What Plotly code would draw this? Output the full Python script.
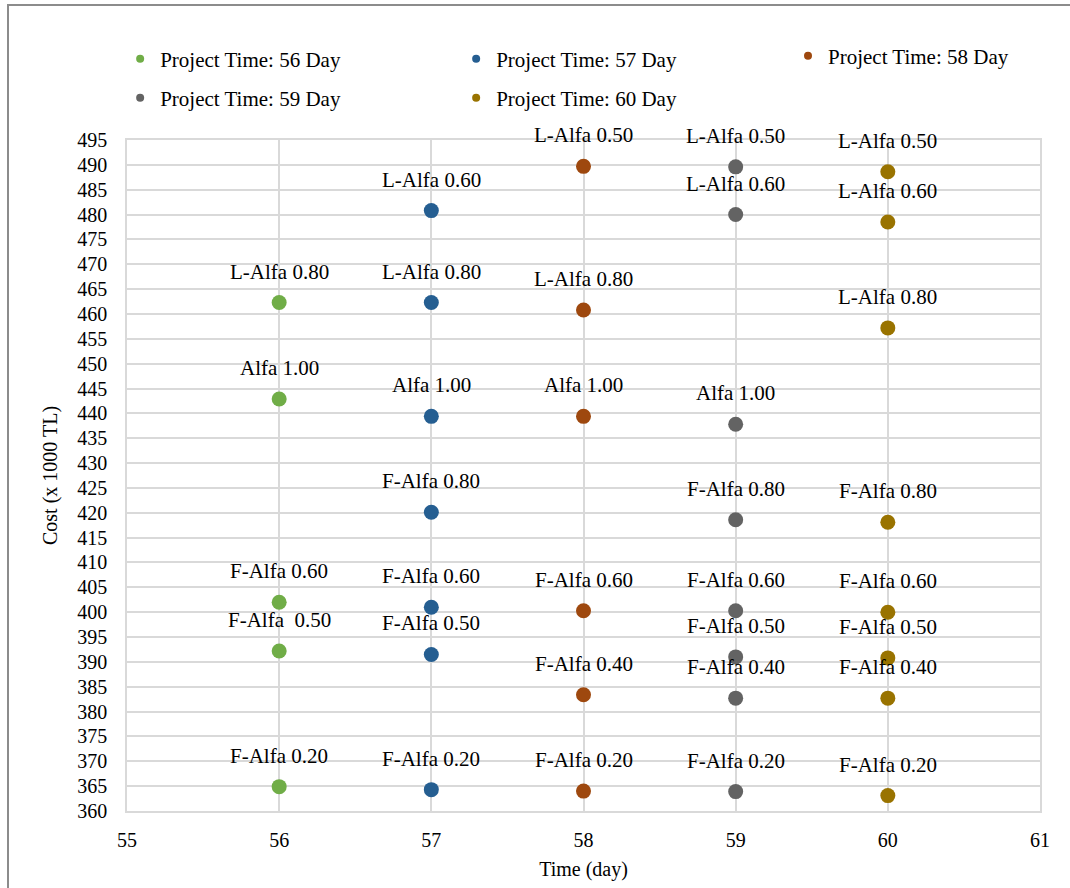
import plotly.graph_objects as go

# Project durations (days) and the cost of each alpha-cut solution (x 1000 TL)
days = [56, 57, 58, 59, 60]
series_names = ["Project Time: 56 Day", "Project Time: 57 Day", "Project Time: 58 Day",
                "Project Time: 59 Day", "Project Time: 60 Day"]
colors = ["#70AD47", "#255E91", "#9E480E", "#636363", "#997300"]
legend_ids = ["legend", "legend", "legend3", "legend2", "legend2"]

labels_56 = ["L-Alfa 0.80", "Alfa 1.00", "F-Alfa 0.60", "F-Alfa&nbsp;&nbsp;0.50", "F-Alfa 0.20"]
costs_56 = [462.3, 442.9, 402.0, 392.2, 364.9]

labels_57 = ["L-Alfa 0.60", "L-Alfa 0.80", "Alfa 1.00", "F-Alfa 0.80", "F-Alfa 0.60",
             "F-Alfa 0.50", "F-Alfa 0.20"]
costs_57 = [480.8, 462.3, 439.4, 420.1, 401.0, 391.5, 364.3]

labels_58 = ["L-Alfa 0.50", "L-Alfa 0.80", "Alfa 1.00", "F-Alfa 0.60", "F-Alfa 0.40", "F-Alfa 0.20"]
costs_58 = [489.7, 460.8, 439.4, 400.3, 383.4, 364.0]

labels_59 = ["L-Alfa 0.50", "L-Alfa 0.60", "Alfa 1.00", "F-Alfa 0.80", "F-Alfa 0.60",
             "F-Alfa 0.50", "F-Alfa 0.40", "F-Alfa 0.20"]
costs_59 = [489.6, 480.0, 437.8, 418.6, 400.3, 391.0, 382.7, 363.9]

labels_60 = ["L-Alfa 0.50", "L-Alfa 0.60", "L-Alfa 0.80", "F-Alfa 0.80", "F-Alfa 0.60",
             "F-Alfa 0.50", "F-Alfa 0.40", "F-Alfa 0.20"]
costs_60 = [488.6, 478.5, 457.2, 418.1, 400.0, 390.8, 382.7, 363.1]

all_costs = [costs_56, costs_57, costs_58, costs_59, costs_60]
all_labels = [labels_56, labels_57, labels_58, labels_59, labels_60]

y_ticks = list(range(360, 500, 5))

FONT = "Liberation Serif, Times New Roman, serif"

fig = go.Figure()
annotations = []
for day, name, color, costs, labels, legend_id in zip(
        days, series_names, colors, all_costs, all_labels, legend_ids):
    # data points
    fig.add_trace(go.Scatter(
        x=[day] * len(costs), y=costs, mode="markers", name=name,
        marker=dict(color=color, size=15),
        legendgroup=name, showlegend=False, hoverinfo="x+y",
    ))
    # legend entry with a small symbol
    fig.add_trace(go.Scatter(
        x=[None], y=[None], mode="markers", name=name,
        marker=dict(color=color, size=8),
        legendgroup=name, showlegend=True, legend=legend_id,
    ))
    for c, lab in zip(costs, labels):
        annotations.append(dict(
            x=day, y=c, text=lab, showarrow=False, yshift=31,
            font=dict(family=FONT, size=21, color="#000000"),
        ))

legend_style = dict(orientation="h", xanchor="left", yanchor="middle",
                    entrywidthmode="pixels",
                    font=dict(family=FONT, size=21, color="#000000"),
                    bgcolor="rgba(0,0,0,0)")

fig.update_layout(
    width=1070, height=888,
    margin=dict(l=127, r=30, t=140, b=77, autoexpand=False),
    paper_bgcolor="white", plot_bgcolor="white",
    font=dict(family=FONT, size=20, color="#000000"),
    annotations=annotations,
    legend=dict(x=-0.0075, y=1.1207, entrywidth=291, **legend_style),
    legend3=dict(x=0.724, y=1.1252, entrywidth=210, **legend_style),
    legend2=dict(x=-0.0075, y=1.0626, entrywidth=291, **legend_style),
    xaxis=dict(range=[55, 61], tickvals=[55, 56, 57, 58, 59, 60, 61],
               showgrid=True, gridcolor="#D9D9D9", gridwidth=1.5,
               showline=True, linecolor="#D9D9D9", linewidth=1.5, mirror=True,
               zeroline=False, ticks="outside", ticklen=10, tickcolor="rgba(0,0,0,0)",
               tickfont=dict(family=FONT, size=20),
               title=dict(text="Time (day)", font=dict(family=FONT, size=20), standoff=12)),
    yaxis=dict(range=[360, 495], tickvals=y_ticks,
               showgrid=True, gridcolor="#D9D9D9", gridwidth=1.5,
               showline=True, linecolor="#D9D9D9", linewidth=1.5, mirror=True,
               zeroline=False, ticks="outside", ticklen=14, tickcolor="rgba(0,0,0,0)",
               tickfont=dict(family=FONT, size=20),
               title=dict(text="Cost (x 1000 TL)", font=dict(family=FONT, size=20), standoff=14)),
    shapes=[dict(type="rect", xref="paper", yref="paper",
                 x0=(8 - 127) / 913, x1=1.1, y0=-0.2, y1=(811 - 5) / 671,
                 line=dict(color="#8C8C8C", width=2), fillcolor="rgba(0,0,0,0)", layer="below")],
)

fig.write_html("out.html")
